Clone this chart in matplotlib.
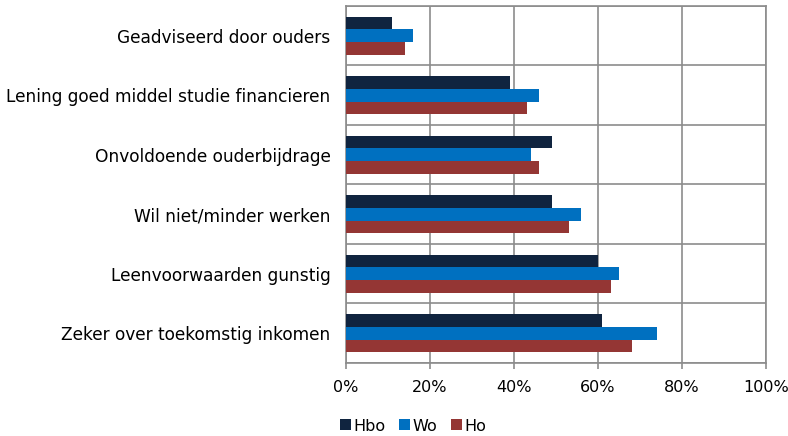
import numpy as np
import matplotlib.pyplot as plt

# Redenen om te lenen, per type opleiding (aandeel studenten)
categories = ["Geadviseerd door ouders",
              "Lening goed middel studie financieren",
              "Onvoldoende ouderbijdrage",
              "Wil niet/minder werken",
              "Leenvoorwaarden gunstig",
              "Zeker over toekomstig inkomen"]
hbo = [11, 39, 49, 49, 60, 61]
wo = [16, 46, 44, 56, 65, 74]
ho = [14, 43, 46, 53, 63, 68]

series = [("Hbo", hbo, "#10243f"), ("Wo", wo, "#0070c0"), ("Ho", ho, "#943634")]
grid_col = "#8c8c8c"

fig = plt.figure(figsize=(7.88, 4.36), dpi=100)
ax = fig.add_axes([346/788, 1 - 363/436, 420/788, 357/436])

y = np.arange(len(categories))
h = 0.215
for k, (name, vals, col) in enumerate(series):
    ax.barh(y + (k - 1) * h, vals, height=h, color=col, label=name, zorder=3)

ax.set_ylim(len(categories) - 0.5, -0.5)
ax.set_xlim(0, 100)

# category boundaries and value gridlines
for b in np.arange(-0.5, len(categories), 1):
    ax.axhline(b, color=grid_col, lw=1.2, zorder=1)
ax.set_xticks(np.arange(0, 101, 20))
ax.set_xticklabels([f"{v}%" for v in range(0, 101, 20)])
ax.grid(axis="x", color=grid_col, lw=1.2, zorder=1)

ax.set_yticks(y)
ax.set_yticklabels(categories)
ax.tick_params(axis="y", length=0, pad=11, labelsize=12.25)
ax.tick_params(axis="x", length=4, width=1.2, color=grid_col, direction="out",
               pad=8, labelsize=11.5)
for s in ax.spines.values():
    s.set_color(grid_col)
    s.set_linewidth(1.2)

fig.legend(loc="center", bbox_to_anchor=(413/788, 1 - 426/436), ncol=3,
           frameon=False, fontsize=11.5, handlelength=0.68, handleheight=0.68,
           handletextpad=0.15, columnspacing=0.85)

plt.savefig("out.png", dpi=100)
